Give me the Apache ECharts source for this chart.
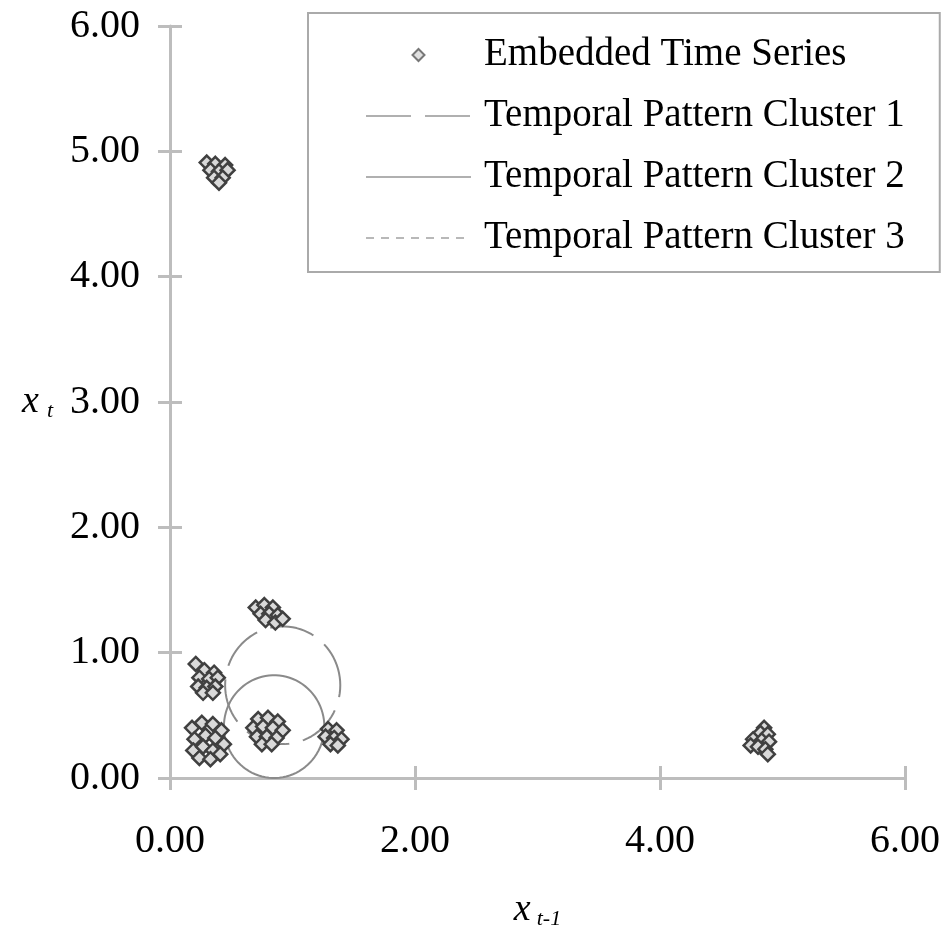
<!DOCTYPE html>
<html>
<head>
<meta charset="utf-8">
<script src="https://cdn.jsdelivr.net/npm/echarts@6/dist/echarts.min.js"></script>
<style>
  html, body { margin: 0; padding: 0; background: #fff; }
  #chart { width: 944px; height: 935px; }
</style>
</head>
<body>
<div id="chart"></div>
<script>
// embedded time series: x(t-1) against x(t)
const xPrev = [
  0.30, 0.37, 0.45, 0.33, 0.40, 0.47, 0.36, 0.43, 0.40,
  4.85, 4.82, 4.88, 4.76, 4.83, 4.89, 4.74, 4.80, 4.86, 4.88,
  0.70, 0.77, 0.84, 0.74, 0.81, 0.88, 0.78, 0.86, 0.92,
  0.21, 0.28, 0.36, 0.24, 0.32, 0.39, 0.23, 0.30, 0.37, 0.27, 0.35,
  0.18, 0.26, 0.35, 0.42, 0.20, 0.29, 0.37, 0.44, 0.19, 0.27, 0.35, 0.24, 0.33, 0.41,
  0.72, 0.80, 0.88, 0.68, 0.76, 0.84, 0.92, 0.71, 0.79, 0.87, 0.75, 0.83,
  1.29, 1.36, 1.27, 1.34, 1.40, 1.31, 1.37
];
const xCurr = [
  4.91, 4.90, 4.89, 4.85, 4.84, 4.85, 4.79, 4.79, 4.75,
  0.40, 0.36, 0.35, 0.31, 0.30, 0.29, 0.26, 0.25, 0.23, 0.19,
  1.36, 1.38, 1.36, 1.31, 1.31, 1.30, 1.26, 1.24, 1.27,
  0.91, 0.86, 0.84, 0.80, 0.79, 0.80, 0.73, 0.72, 0.73, 0.68, 0.68,
  0.40, 0.44, 0.43, 0.38, 0.31, 0.34, 0.32, 0.27, 0.22, 0.25, 0.22, 0.16, 0.15, 0.19,
  0.47, 0.48, 0.45, 0.40, 0.41, 0.40, 0.38, 0.33, 0.33, 0.32, 0.27, 0.27,
  0.39, 0.38, 0.33, 0.32, 0.31, 0.27, 0.26
];

// temporal pattern clusters (centre and radius)
const clusterNames = ["Temporal Pattern Cluster 1", "Temporal Pattern Cluster 2", "Temporal Pattern Cluster 3"];
const clusterX = [0.92, 0.85, 0.81];
const clusterY = [0.74, 0.41, 0.38];
const clusterR = [0.47, 0.41, 0.12];
const clusterDash = [[45, 14], "solid", [8, 7]];

const font = "Liberation Serif";
const axisGray = "#bdbdbd";

function outline(cx, cy, r) {
  const pts = [];
  for (let a = 0; a <= 360; a += 4) {
    const t = a * Math.PI / 180;
    pts.push([cx + r * Math.cos(t), cy + r * Math.sin(t)]);
  }
  return pts;
}

const chart = echarts.init(document.getElementById("chart"));

const baseAxis = {
  min: 0,
  max: 6,
  splitLine: { show: false },
};

const series = [{
  name: "Embedded Time Series",
  type: "scatter",
  symbol: "diamond",
  symbolSize: 14,
  z: 3,
  data: xPrev.map((v, i) => [v, xCurr[i]]),
  itemStyle: { color: "#d9d9d9", borderColor: "#404040", borderWidth: 2.5, opacity: 1 },
}];
clusterNames.forEach((name, i) => {
  series.push({
    name: name,
    type: "line",
    data: outline(clusterX[i], clusterY[i], clusterR[i]),
    symbol: "none",
    showSymbol: false,
    z: 1,
    lineStyle: { color: i === 2 ? "#a8a8a8" : "#8a8a8a", width: 2, type: clusterDash[i] },
  });
});

const hiddenDot = { color: "transparent", borderWidth: 0, opacity: 0 };

chart.setOption({
  animation: false,
  backgroundColor: "#fff",
  grid: { left: 170, right: 39, top: 26, bottom: 157 },
  legend: {
    orient: "vertical",
    left: 308,
    top: 13,
    padding: [22, 35, 14, 57],
    itemWidth: 105,
    itemHeight: 12,
    itemGap: 21,
    borderColor: "#aaa",
    borderWidth: 2,
    textStyle: { fontFamily: font, fontSize: 39, color: "#000", lineHeight: 40, padding: [0, 0, 0, 8] },
    data: [
      {
        name: "Embedded Time Series",
        icon: "path://M6,0L12,6L6,12L0,6Z",
        itemStyle: { color: "#e0e0e0", borderColor: "#777", borderWidth: 2 },
      },
      { name: clusterNames[0], itemStyle: hiddenDot, lineStyle: { color: "#b0b0b0" } },
      { name: clusterNames[1], itemStyle: hiddenDot, lineStyle: { color: "#b0b0b0" } },
      { name: clusterNames[2], itemStyle: hiddenDot, lineStyle: { color: "#b8b8b8" } },
    ],
  },
  xAxis: [
    Object.assign({}, baseAxis, {
      type: "value",
      position: "bottom",
      interval: 2,
      name: "{i|x}{s|t-1}",
      nameLocation: "middle",
      nameGap: 112,
      nameTextStyle: {
        rich: {
          i: { fontFamily: font, fontStyle: "italic", fontSize: 38, color: "#000" },
          s: { fontFamily: font, fontStyle: "italic", fontSize: 22, color: "#000", padding: [18, 0, 0, 6] },
        },
      },
      axisLine: { show: true, lineStyle: { color: axisGray, width: 3 } },
      axisTick: { show: true, length: 12, lineStyle: { color: axisGray, width: 3 } },
      axisLabel: {
        margin: 43,
        fontFamily: font,
        fontSize: 40,
        color: "#000",
        formatter: (v) => v.toFixed(2),
      },
    }),
    Object.assign({}, baseAxis, {
      type: "value",
      position: "bottom",
      interval: 2,
      axisLine: { show: false },
      axisTick: { show: true, inside: true, length: 12, lineStyle: { color: axisGray, width: 3 } },
      axisLabel: { show: false },
    }),
  ],
  yAxis: [
    Object.assign({}, baseAxis, {
      type: "value",
      position: "left",
      interval: 1,
      name: "{i|x}{s|t}",
      nameLocation: "middle",
      nameRotate: 0,
      nameGap: 117,
      nameTextStyle: {
        rich: {
          i: { fontFamily: font, fontStyle: "italic", fontSize: 38, color: "#000" },
          s: { fontFamily: font, fontStyle: "italic", fontSize: 22, color: "#000", padding: [18, 0, 0, 8] },
        },
      },
      axisLine: { show: true, lineStyle: { color: axisGray, width: 3 } },
      axisTick: { show: true, length: 12, lineStyle: { color: axisGray, width: 3 } },
      axisLabel: {
        margin: 30,
        fontFamily: font,
        fontSize: 40,
        color: "#000",
        formatter: (v) => v.toFixed(2),
      },
    }),
    Object.assign({}, baseAxis, {
      type: "value",
      position: "left",
      offset: 0,
      interval: 1,
      axisLine: { show: false },
      axisTick: { show: true, inside: true, length: 12, lineStyle: { color: axisGray, width: 3 } },
      axisLabel: { show: false },
    }),
  ],
  series: series,
});

window.addEventListener("resize", () => {
  if (chart) {
    chart.resize();
  }
});
</script>
</body>
</html>
